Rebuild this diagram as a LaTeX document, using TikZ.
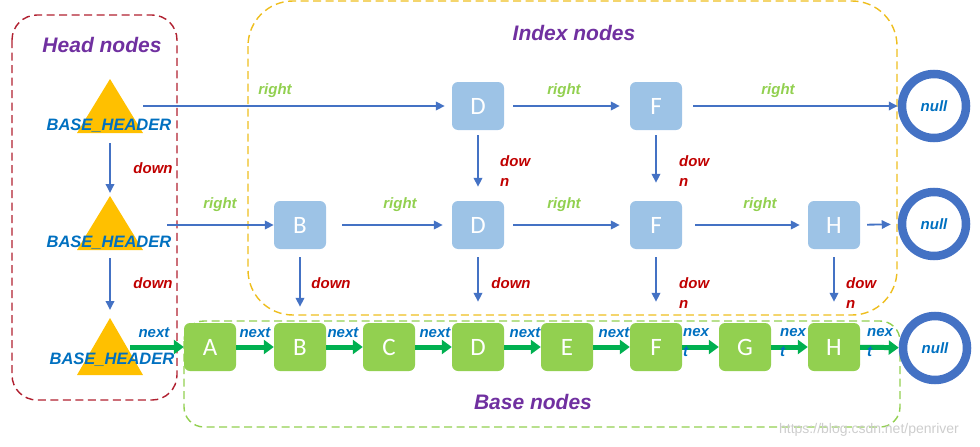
\documentclass[tikz,border=0pt]{standalone}
\usepackage{fontspec}
\setmainfont{Liberation Sans}
\newfontfamily\boxfont{Carlito}
\usetikzlibrary{arrows.meta}
\definecolor{lineblue}{RGB}{68,114,196}
\definecolor{idxblue}{RGB}{157,195,230}
\definecolor{basegreen}{RGB}{146,208,80}
\definecolor{arrowgreen}{RGB}{0,176,80}
\definecolor{textblue}{RGB}{0,112,192}
\definecolor{downred}{RGB}{192,0,0}
\definecolor{headred}{RGB}{176,32,48}
\definecolor{triyellow}{RGB}{255,192,0}
\definecolor{idxyellow}{RGB}{238,190,30}
\definecolor{titlepurple}{RGB}{112,48,160}
\definecolor{wmgray}{RGB}{205,205,205}
\begin{document}
\begin{tikzpicture}[x=1pt,y=-1pt,
  lbl/.style={font=\fontsize{15}{20}\selectfont\bfseries\itshape, inner sep=0pt},
  downlbl/.style={lbl, text=downred},
  rightlbl/.style={lbl, text=basegreen},
  nextlbl/.style={lbl, text=textblue},
  twoline/.style={align=left, anchor=north west},
  titlelbl/.style={font=\fontsize{21}{24}\selectfont\bfseries\itshape, text=titlepurple, inner sep=0pt, anchor=base},
  hdrlbl/.style={font=\fontsize{16.5}{20}\selectfont\bfseries\itshape, text=textblue, inner sep=0pt},
  idxbox/.style={fill=idxblue, rounded corners=6pt, minimum width=52pt, minimum height=48pt, inner sep=0pt, text=white, font=\boxfont\fontsize{25}{25}\selectfont},
  basebox/.style={idxbox, fill=basegreen},
  nullc/.style={circle, draw=lineblue, line width=8.5pt, minimum size=64pt, inner sep=0pt, text=textblue, font=\fontsize{15}{18}\selectfont\bfseries\itshape},
  barrow/.style={draw=lineblue, line width=1.8pt, -{Triangle[length=9pt,width=8.5pt]}},
  garrow/.style={draw=arrowgreen, line width=5pt, -{Triangle[length=10pt,width=14pt]}},
  region/.style={dash pattern=on 8pt off 4.5pt, line width=1.4pt}
]
\useasboundingbox (0,0) rectangle (980,447);

% region boxes
\draw[region, draw=headred, rounded corners=25pt] (12,15) rectangle (177,400);
\draw[region, draw=idxyellow, rounded corners=45pt] (248,1) rectangle (897,315);
\draw[region, draw=basegreen, rounded corners=20pt] (184,321) rectangle (900,427);

% titles
\node[titlelbl] (thead) at (102,52) {Head nodes};
\node[titlelbl] (tindex) at (574,40) {Index nodes};
\node[titlelbl] (tbase) at (533,409) {Base nodes};

% head triangles
\fill[triyellow] (110,79) -- (143,133) -- (77,133) -- cycle;
\fill[triyellow] (110,196) -- (143,250) -- (77,250) -- cycle;
\fill[triyellow] (110,318) -- (143,375) -- (77,375) -- cycle;
\node[hdrlbl] (hb1) at (109,126) {BASE\_HEADER};
\node[hdrlbl] (hb2) at (109,243) {BASE\_HEADER};
\node[hdrlbl] (hb3) at (112,360) {BASE\_HEADER};

\coordinate (h1r) at (143,106);
\coordinate (h2r) at (167,225);
\coordinate (h3r) at (130,347);
\coordinate (h1d) at (110,143);
\coordinate (h2u) at (110,193);
\coordinate (h2d) at (110,258);
\coordinate (h3u) at (110,310);

% index row 1
\node[idxbox] (D1) at (478,106) {D};
\node[idxbox] (F1) at (656,106) {F};
\node[nullc] (N1) at (934,106) {null};
% index row 2
\node[idxbox] (B2) at (300,225) {B};
\node[idxbox] (D2) at (478,225) {D};
\node[idxbox] (F2) at (656,225) {F};
\node[idxbox] (H2) at (834,225) {H};
\node[nullc] (N2) at (934,224) {null};
% base row
\node[basebox] (A3) at (210,347) {A};
\node[basebox] (B3) at (300,347) {B};
\node[basebox] (C3) at (389,347) {C};
\node[basebox] (D3) at (478,347) {D};
\node[basebox] (E3) at (567,347) {E};
\node[basebox] (F3) at (656,347) {F};
\node[basebox] (G3) at (745,347) {G};
\node[basebox] (H3) at (834,347) {H};
\node[nullc] (N3) at (935,348) {null};

% row 1 right arrows
\draw[barrow, shorten >=7pt] (h1r) -- (D1.west);
\draw[barrow, shorten <=9pt, shorten >=10pt] (D1) -- (F1);
\draw[barrow, shorten <=11pt] (F1) -- (N1);
\node[rightlbl, anchor=base] (r11) at (275,94) {right};
\node[rightlbl, anchor=base] (r12) at (564,94) {right};
\node[rightlbl, anchor=base] (r13) at (778,94) {right};

% row 2 right arrows
\draw[barrow] (h2r) -- (B2.west);
\draw[barrow, shorten <=16pt, shorten >=9pt] (B2) -- (D2);
\draw[barrow, shorten <=9pt, shorten >=10pt] (D2) -- (F2);
\draw[barrow, shorten <=13pt, shorten >=8pt] (F2) -- (H2);
\draw[barrow, shorten <=7pt, shorten >=7pt] (H2) -- (N2);
\node[rightlbl, anchor=base] (r21) at (220,208) {right};
\node[rightlbl, anchor=base] (r22) at (400,208) {right};
\node[rightlbl, anchor=base] (r23) at (564,208) {right};
\node[rightlbl, anchor=base] (r24) at (760,208) {right};

% head down arrows
\draw[barrow] (h1d) -- (h2u);
\draw[barrow] (h2d) -- (h3u);
\node[downlbl, anchor=base] (dh1) at (153,173) {down};
\node[downlbl, anchor=base] (dh2) at (153,288) {down};

% index down arrows row1 -> row2
\draw[barrow, shorten <=5pt, shorten >=14pt] (D1) -- (D2);
\draw[barrow, shorten <=5pt, shorten >=18pt] (F1) -- (F2);
\node[downlbl, twoline] (d11) at (500,155) {dow\\n};
\node[downlbl, twoline] (d12) at (679,155) {dow\\n};

% row2 -> base
\draw[barrow, shorten <=8pt, shorten >=16pt] (B2) -- (B3);
\draw[barrow, shorten <=8pt, shorten >=21pt] (D2) -- (D3);
\draw[barrow, shorten <=8pt, shorten >=21pt] (F2) -- (F3);
\draw[barrow, shorten <=8pt, shorten >=21pt] (H2) -- (H3);
\node[downlbl, anchor=base] (d21) at (331,288) {down};
\node[downlbl, anchor=base] (d22) at (511,288) {down};
\node[downlbl, twoline] (d23) at (679,277) {dow\\n};
\node[downlbl, twoline] (d24) at (846,277) {dow\\n};

% base next arrows
\draw[garrow] (h3r) -- (A3.west);
\draw[garrow] (A3) -- (B3);
\draw[garrow] (B3) -- (C3);
\draw[garrow] (C3) -- (D3);
\draw[garrow] (D3) -- (E3);
\draw[garrow] (E3) -- (F3);
\draw[garrow] (F3) -- (G3);
\draw[garrow] (G3) -- (H3);
\draw[garrow] (H3) -- (N3);
\node[nextlbl, anchor=base] (n0) at (154,337) {next};
\node[nextlbl, anchor=base] (n1) at (255,337) {next};
\node[nextlbl, anchor=base] (n2) at (343,337) {next};
\node[nextlbl, anchor=base] (n3) at (435,337) {next};
\node[nextlbl, anchor=base] (n4) at (525,337) {next};
\node[nextlbl, anchor=base] (n5) at (614,337) {next};
\node[nextlbl, twoline] (n6) at (683,328) {nex\\t};
\node[nextlbl, twoline] (n7) at (780,328) {nex\\t};
\node[nextlbl, twoline] (n8) at (867,328) {nex\\t};

% watermark
\node[font=\fontsize{14}{16}\selectfont, text=wmgray, inner sep=0pt, anchor=base] (wm) at (869,433) {https://blog.csdn.net/penriver};
\end{tikzpicture}
\end{document}
